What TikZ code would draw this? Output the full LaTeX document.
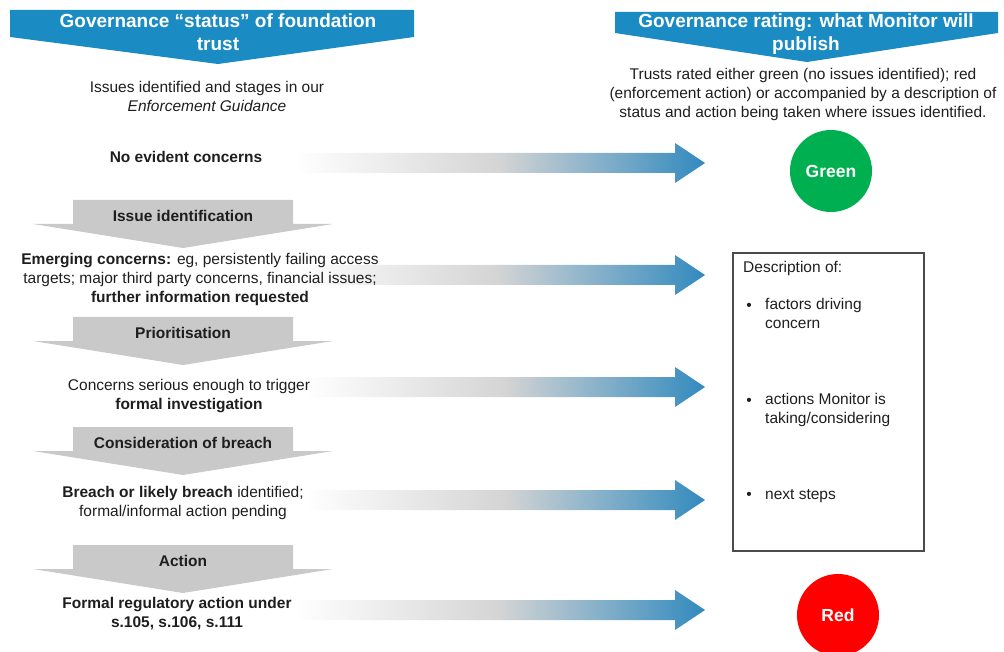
\documentclass[tikz,border=0pt]{standalone}
\usepackage{fontspec}
\setmainfont{Liberation Sans}
\definecolor{bannerBlue}{RGB}{27,139,196}
\definecolor{arrowBlue}{RGB}{50,138,190}
\definecolor{arrowGrey}{RGB}{212,212,212}
\definecolor{stageGrey}{RGB}{201,201,201}
\definecolor{ratingGreen}{RGB}{0,176,80}
\definecolor{ratingRed}{RGB}{255,0,0}
\definecolor{textColour}{RGB}{30,30,30}
\tikzset{
	body/.style={font=\fontsize{15.5}{19}\selectfont, text=textColour, align=center, inner sep=0},
	banner/.style={font=\fontsize{19}{23}\selectfont\bfseries, text=white, align=center, inner sep=0},
	stage/.style={font=\fontsize{15.5}{19}\selectfont\bfseries, text=textColour, inner sep=0},
	rating/.style={circle, minimum size=82pt, inner sep=0, text=white, font=\fontsize{17.5}{20}\selectfont\bfseries}
}

\begin{document}
\begin{tikzpicture}[x=1pt, y=-1pt]
		\useasboundingbox (0, 0) rectangle (1004, 652);

		% the two blue headers
		\fill[bannerBlue] (10, 10) -- (414, 10) -- (414, 37) -- (218, 64) -- (10, 37) -- cycle;
		\fill[bannerBlue] (615, 12) -- (998, 12) -- (998, 33) -- (807, 62) -- (615, 33) -- cycle;
		\node[banner] (hdrStatus) at (218, 32) {Governance “status” of foundation\\trust};
		\node[banner] (hdrRating) at (806, 34) {Governance rating: what Monitor will\\publish};

		\node[body] (introStatus) at (207, 96) {Issues identified and stages in our\\\textit{Enforcement Guidance}};
		\node[body] (introRating) at (803, 94) {Trusts rated either green (no issues identified); red\\(enforcement action) or accompanied by a description of\\status and action being taken where issues identified.};

		% grey stage chevrons
		\foreach \t/\name/\label in {200/issue/Issue identification, 317/prior/Prioritisation, 427/breach/Consideration of breach, 545/action/Action} {
			\fill[stageGrey] (73, \t) -- (293, \t) -- (293, \t+24) -- (333, \t+24) -- (183, \t+48) -- (33, \t+24) -- (73, \t+24) -- cycle;
			\node[stage] (\name) at (183, \t+16) {\label};
		}

		% shaded arrows across to the rating
		\foreach \y/\x in {163/295, 275/290, 387/305, 500/305, 610/295} {
			\shade[left color=white, right color=arrowBlue, middle color=arrowGrey]
				(\x, \y-10) -- (675, \y-10) -- (675, \y-20) -- (705, \y) -- (675, \y+20) -- (675, \y+10) -- (\x, \y+10) -- cycle;
		}

		% status at each stage
		\node[body, font=\fontsize{15.5}{19}\selectfont\bfseries] (noConcern) at (186, 157) {No evident concerns};
		\node[body] (emerging) at (200, 279) {\textbf{Emerging concerns:} eg, persistently failing access\\targets; major third party concerns, financial issues;\\\textbf{further information requested}};
		\node[body] (serious) at (189, 396) {Concerns serious enough to trigger\\\textbf{formal investigation}};
		\node[body] (likely) at (183, 503) {\textbf{Breach or likely breach} identified;\\formal/informal action pending};
		\node[body] (formal) at (177, 614) {\textbf{Formal regulatory action under}\\\textbf{s.105, s.106, s.111}};

		% ratings
		\node[rating, fill=ratingGreen] (green) at (831, 171) {Green};
		\node[rating, fill=ratingRed] (red) at (838, 615) {Red};

		% description box
		\draw[line width=1.2pt, draw=textColour!80] (733, 253) rectangle (924, 551);
		\node[body, anchor=west] (descHead) at (743, 268) {Description of:};
		\node[body] (bulletA) at (749, 307) {•};
		\node[body, anchor=north west, align=left] (factors) at (765, 298) {factors driving\\concern};
		\node[body] (bulletB) at (749, 402) {•};
		\node[body, anchor=north west, align=left] (actions) at (765, 393) {actions Monitor is\\taking/considering};
		\node[body] (bulletC) at (749, 496) {•};
		\node[body, anchor=west] (nextSteps) at (765, 496) {next steps};
	\end{tikzpicture}
\end{document}
